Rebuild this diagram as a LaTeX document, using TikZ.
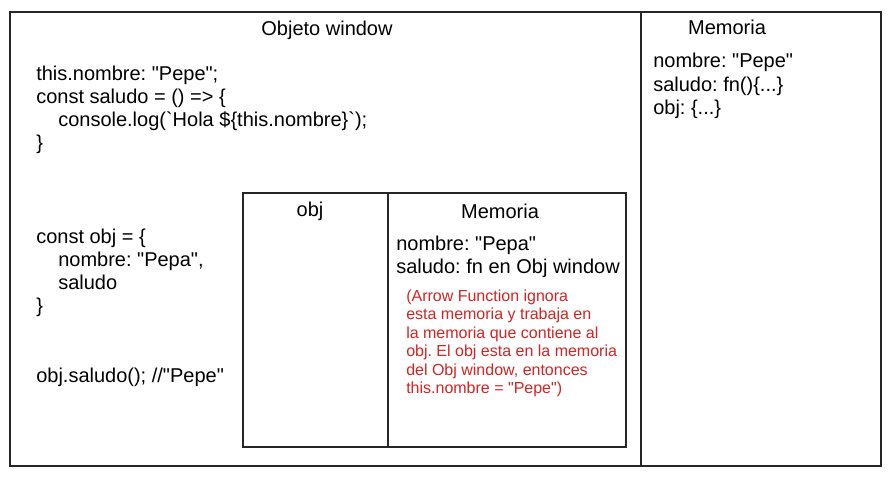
\documentclass[tikz,border=0pt]{standalone}
\usepackage{fontspec}
\newfontfamily\arial{Liberation Sans}
\definecolor{redtxt}{RGB}{212,36,36}
\frenchspacing
\begin{document}
\begin{tikzpicture}[x=0.75pt,y=-0.75pt,
  frame/.style={draw=black!85,line width=0.9pt},
  txt/.style={inner sep=0pt,anchor=base west,font=\arial\frenchspacing\fontsize{15}{17}\selectfont},
  ctxt/.style={inner sep=0pt,anchor=base,font=\arial\frenchspacing\fontsize{15}{17}\selectfont},
  rtxt/.style={inner sep=0pt,anchor=base west,text=redtxt,font=\arial\frenchspacing\fontsize{12}{14}\selectfont}]
\useasboundingbox (0,0) rectangle (891,478);
\fill[white] (0,0) rectangle (891,478);
% frames
\draw[frame] (10,12) rectangle (881,466);
\draw[frame] (641,12) -- (641,466);
\draw[frame] (243,193) rectangle (626,447);
\draw[frame] (388,193) -- (388,447);
% window title
\node[ctxt] (wtitle) at (327,36) {Objeto window};
% code top
\node[txt] (c1) at (36,80) {this.nombre: "Pepe";};
\node[txt] (c2) at (36,103) {const saludo = () => \{};
\node[txt] (c3) at (58,126) {console.log(\symbol{96}Hola \$\{this.nombre\}\symbol{96});};
\node[txt] (c4) at (36,149) {\}};
% code obj
\node[txt] (d1) at (36,243) {const obj = \{};
\node[txt] (d2) at (58,266) {nombre: "Pepa",};
\node[txt] (d3) at (58,289) {saludo};
\node[txt] (d4) at (36,312) {\}};
\node[txt] (e1) at (36,382) {obj.saludo(); //"Pepe"};
% inner box
\node[ctxt] (objt) at (310,216) {obj};
\node[ctxt] (memi) at (500,218) {Memoria};
\node[txt] (m1) at (396,250) {nombre: "Pepa"};
\node[txt] (m2) at (396,273) {saludo: fn en Obj window};
\node[rtxt] (r1) at (406,301) {(Arrow Function ignora};
\node[rtxt] (r2) at (406,319) {esta memoria y trabaja en};
\node[rtxt] (r3) at (406,338) {la memoria que contiene al};
\node[rtxt] (r4) at (406,356) {obj. El obj esta en la memoria};
\node[rtxt] (r5) at (406,375) {del Obj window, entonces};
\node[rtxt] (r6) at (406,393) {this.nombre = "Pepe")};
% right memory
\node[ctxt] (memr) at (727,35) {Memoria};
\node[txt] (n1) at (653,68) {nombre: "Pepe"};
\node[txt] (n2) at (653,91) {saludo: fn()\{...\}};
\node[txt] (n3) at (653,114) {obj: \{...\}};
\end{tikzpicture}
\end{document}
